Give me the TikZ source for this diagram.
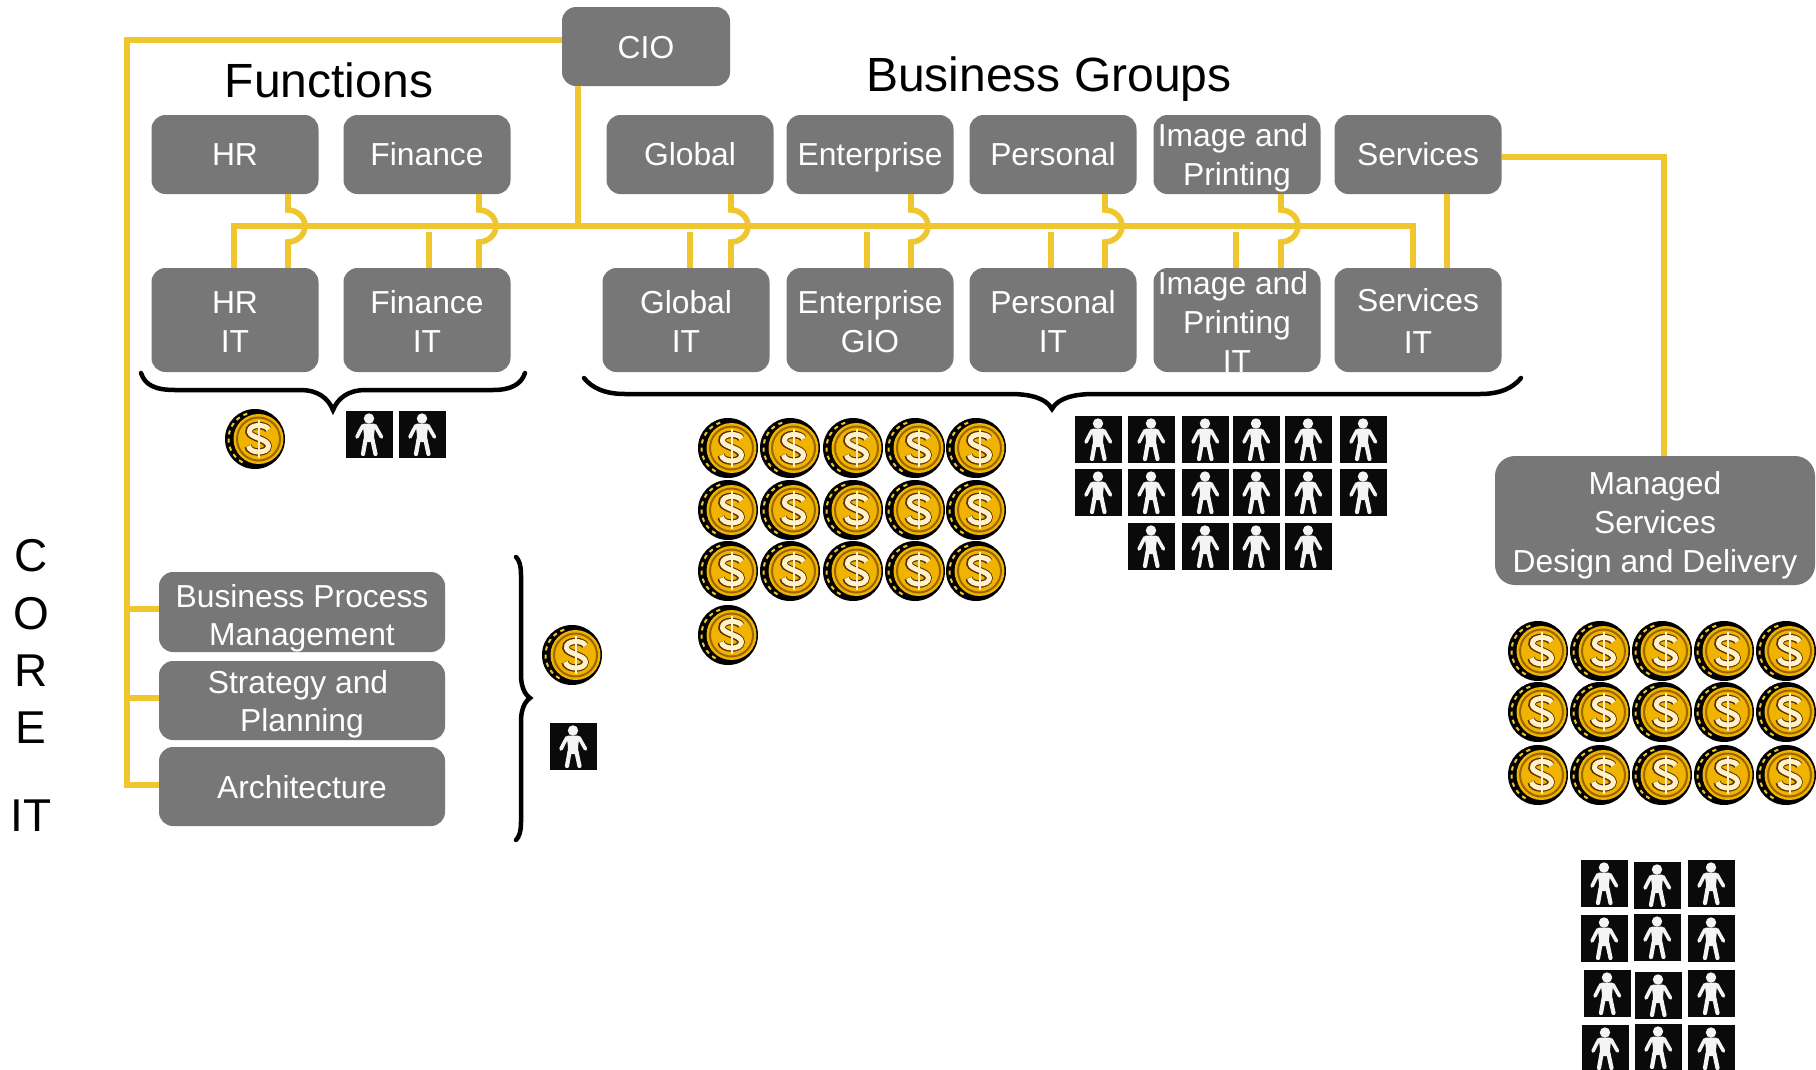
\documentclass[tikz,border=0pt]{standalone}
\usepackage{fontspec}
\setmainfont{Liberation Sans}
\usetikzlibrary{calc}
\definecolor{boxgrey}{HTML}{777777}
\definecolor{busyellow}{HTML}{F0C62E}
\definecolor{coingold}{HTML}{F0B400}
\definecolor{coinring}{HTML}{9A6600}
\definecolor{coincream}{HTML}{FFF2C8}
\definecolor{coinbrown}{HTML}{5A2C00}
\definecolor{personblack}{HTML}{0A0A0A}
\definecolor{personwhite}{HTML}{F4F4F4}
\newcommand{\tp}[1]{\rule{0pt}{#1pt}}
\tikzset{
  x=1pt,y=-1pt,
  box/.style={draw=none,fill=boxgrey,rounded corners=14pt,inner sep=0pt,text=white,align=center,
    font=\fontsize{31.8}{38.8}\selectfont},
  smallbox/.style={box,minimum width=167pt,minimum height=79pt},
  itbox/.style={box,minimum width=167pt,minimum height=104pt},
  wire/.style={draw=busyellow,line width=5.6pt,line join=miter},
  curly/.style={draw=black,line width=4.5pt,line cap=round},
  heading/.style={font=\fontsize{48}{56}\selectfont,inner sep=0pt},
  coreletter/.style={font=\fontsize{46}{50}\selectfont,inner sep=0pt},
  coin/.pic={
    \fill[black] (0,0) circle (30);
    \foreach \a in {118,136,154,172,190,208,226,244}
      \draw[busyellow,line width=2pt] (\a:26.5) -- (\a+9:26.5);
    \fill[coingold] (3.5,0) circle (25);
    \draw[coinring,line width=2pt] (3.5,0) circle (21.5);
    \draw[coinbrown,line width=7.5pt] (13,-9.5) .. controls (11,-15) and (-7,-15.5) .. (-6,-7) .. controls (-5,-1) and (13,0) .. (13,7) .. controls (13,15) and (-6,15) .. (-7,7);
    \draw[coincream,line width=5pt] (13.5,-9.5) .. controls (11.5,-15) and (-6.5,-15.5) .. (-5.5,-7) .. controls (-4.5,-1) and (13.5,0) .. (13.5,7) .. controls (13.5,15) and (-5.5,15) .. (-6.5,7);
    \draw[coinbrown,line width=2.6pt] (4,-19) -- (4,19);
    \draw[coincream,line width=1.2pt] (4,-19) -- (4,19);
  },
  person/.pic={
    \fill[personblack] (0,0) rectangle (47,47);
    \fill[personwhite] (23,7.5) circle (5.2);
    \fill[personwhite,rounded corners=2pt] (16.5,12.5) -- (29.5,12.5) -- (28,24) -- (28.5,31) -- (17.5,31) -- (18,24) -- cycle;
    \draw[personwhite,line width=3.6pt,line cap=round,line join=round] (17,14.5) -- (14.5,19) -- (11,26);
    \draw[personwhite,line width=3.6pt,line cap=round,line join=round] (29,14.5) -- (31.5,19) -- (35.5,26);
    \draw[personwhite,line width=4.2pt,line cap=round,line join=round] (19.5,29) -- (17,43);
    \draw[personwhite,line width=4.2pt,line cap=round,line join=round] (26.5,29) -- (29.5,43);
  }
}
\newcommand{\jumpwire}[3]{%
  \draw[wire] (#1 |- #2.south) -- ($(#1)+(0,-16)$)
    .. controls ($(#1)+(9,-16)$) and ($(#1)+(17,-9)$) .. ($(#1)+(17,0)$)
    .. controls ($(#1)+(17,9)$) and ($(#1)+(9,16)$) .. ($(#1)+(0,16)$) -- (#1 |- #3.north);%
}
\begin{document}
\begin{tikzpicture}
\clip (0,0) rectangle (1816,1069);
\fill[white] (0,0) rectangle (1816,1069);

% Nodes
\node[smallbox,minimum width=168pt] (cio) at (646,46.5) {\tp{24}CIO};
\node[smallbox] (hr) at (235,154.5) {HR};
\node[smallbox] (fin) at (427,154.5) {Finance};
\node[smallbox] (glob) at (690,154.5) {Global};
\node[smallbox] (ent) at (870,154.5) {\tp{29}Enterprise};
\node[smallbox] (pers) at (1053,154.5) {Personal};
\node[smallbox] (img) at (1237,154.5) {\tp{30}Image and\hbox to 8pt{}\\Printing};
\node[smallbox] (serv) at (1418,154.5) {Services};
\node[itbox] (hrit) at (235,320) {\tp{25.5}HR\\IT};
\node[itbox] (finit) at (427,320) {\tp{25.5}Finance\\IT};
\node[itbox] (globit) at (686,320) {\tp{25.5}Global\\IT};
\node[itbox] (entit) at (870,320) {\tp{26}Enterprise\\GIO};
\node[itbox] (persit) at (1053,320) {\tp{25.5}Personal\\IT};
\node[itbox] (imgit) at (1237,320) {};
\node[text=white,align=center,inner sep=0pt,font=\fontsize{31.8}{38.8}\selectfont] (imgittext) at (1237,322) {Image and\hbox to 8pt{}\\Printing\\IT};
\node[itbox] (servit) at (1418,320) {\tp{25.5}Services\\[3pt]IT};
\node[box,minimum width=286pt,minimum height=80pt] (bpm) at (302,612) {\tp{35}Business Process\\[-1pt]Management};
\node[box,minimum width=286pt,minimum height=79pt] (strat) at (302,700.5) {\tp{31}Strategy and\hbox to 8pt{}\\[-1pt]Planning};
\node[box,minimum width=286pt,minimum height=79pt] (arch) at (302,786.5) {\tp{25}Architecture};
\node[box,minimum width=320pt,minimum height=129pt,rounded corners=20pt] (msdd) at (1655,520.5) {\tp{32}Managed\\Services\\Design and Delivery};

% Headings
\node[heading] (functions) at (329,80) {Functions};
\node[heading] (groups) at (1049,79.5) {Business Groups};
\node[coreletter] (c1) at (31,556) {C};
\node[coreletter] (c2) at (31,614) {O};
\node[coreletter] (c3) at (31,671) {R};
\node[coreletter] (c4) at (31,728) {E};
\node[coreletter] (c5) at (31,816) {IT};

% Bus and stubs
\coordinate (busL) at (234,226);
\coordinate (busR) at (1413,226);
\coordinate (hrj) at (288,226);
\coordinate (finj) at (479,226);
\coordinate (globj) at (731,226);
\coordinate (entj) at (911,226);
\coordinate (persj) at (1105,226);
\coordinate (imgj) at (1281,226);
\coordinate (finstub) at (429,232);
\coordinate (globstub) at (690,232);
\coordinate (entstub) at (867,232);
\coordinate (persstub) at (1051,232);
\coordinate (imgstub) at (1236,232);
\coordinate (ciobus) at (578,229);
\coordinate (servx) at (1447,226);
\coordinate (mgdcorner) at (1664,157);
\coordinate (coreleft) at (127,40);
\coordinate (corebottom) at (127,785);
\coordinate (bpmtap) at (159,609);
\coordinate (strattap) at (159,698);

\draw[wire] (busL |- hrit.north) -- (busL) -- (busR) -- (busR |- servit.north);
\draw[wire] (finstub) -- (finstub |- finit.north);
\draw[wire] (globstub) -- (globstub |- globit.north);
\draw[wire] (entstub) -- (entstub |- entit.north);
\draw[wire] (persstub) -- (persstub |- persit.north);
\draw[wire] (imgstub) -- (imgstub |- imgit.north);
\draw[wire] (ciobus |- cio.south) -- (ciobus);
\jumpwire{hrj}{hr}{hrit}
\jumpwire{finj}{fin}{finit}
\jumpwire{globj}{glob}{globit}
\jumpwire{entj}{ent}{entit}
\jumpwire{persj}{pers}{persit}
\jumpwire{imgj}{img}{imgit}
\draw[wire] (servx |- serv.south) -- (servx |- servit.north);
\draw[wire] (serv.east |- mgdcorner) -- (mgdcorner) -- (mgdcorner |- msdd.north);
\draw[wire] (cio.west |- coreleft) -- (coreleft) -- (corebottom) -- (arch.west |- corebottom);
\draw[wire] (coreleft |- bpmtap) -- (bpm.west |- bpmtap);
\draw[wire] (coreleft |- strattap) -- (strat.west |- strattap);

% Braces
\draw[curly] (141,373) .. controls (145,385) and (155,390) .. (175,390) -- (300,390)
  .. controls (318,390) and (328,398) .. (333,410) .. controls (338,398) and (348,390) .. (366,390)
  -- (493,390) .. controls (510,390) and (521,385) .. (525,373);
\draw[curly] (584,378) .. controls (592,388) and (605,394) .. (625,394) -- (1010,394)
  .. controls (1030,394) and (1046,398) .. (1052,409) .. controls (1058,398) and (1074,394) .. (1094,394)
  -- (1480,394) .. controls (1500,394) and (1513,388) .. (1521,378);
\draw[curly] (516,557) .. controls (519,560) and (521,565) .. (521,575) -- (521,675)
  .. controls (521,685) and (524,694) .. (530,698) .. controls (524,702) and (521,711) .. (521,721)
  -- (521,822) .. controls (521,832) and (519,837) .. (516,840);

% Coins
\pic at (255,439) {coin};
\pic at (572,655) {coin};
\foreach \y in {448,510,571}
  \foreach \x in {728,790,853,915,976}
    \pic at (\x,\y) {coin};
\pic at (728,635) {coin};
\foreach \y in {651,712,775}
  \foreach \x in {1538,1600,1662,1724,1786}
    \pic at (\x,\y) {coin};

% People
\foreach \x/\y in {346/411,399/411,550/723,
  1075/416,1128/416,1182/416,1233/416,1285/416,1340/416,
  1075/469,1128/469,1182/469,1233/469,1285/469,1340/469,
  1128/523,1182/523,1233/523,1285/523,
  1581/860,1634/862,1688/860,
  1581/915,1634/914,1688/915,
  1584/970,1635/972,1688/970,
  1582/1025,1635/1024,1688/1025}
  \pic at (\x,\y) {person};
\end{tikzpicture}
\end{document}
